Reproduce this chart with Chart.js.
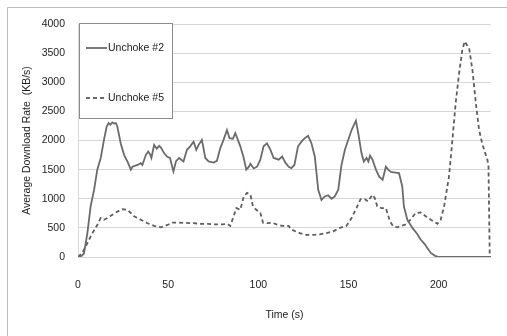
<!DOCTYPE html>
<html>
<head>
<meta charset="utf-8">
<script src="https://cdn.jsdelivr.net/npm/chart.js@4/dist/chart.umd.min.js"></script>
<style>
  html, body { margin: 0; padding: 0; background: #ffffff; }
  #c { display: block; }
</style>
</head>
<body>
<canvas id="c" width="507" height="336"></canvas>
<script>
// ---- data ----
const seriesNames = ['Unchoke #2', 'Unchoke #5'];

const timeUnchoke2 = [0, 2, 3.3, 5.2, 7, 8.9, 10.7, 12.6, 14.4, 15.9, 17, 18, 19, 20, 21, 21.8, 23.7, 25.6, 27.4, 29.3, 30.2, 33, 34.8, 35.7, 37.6, 38.9, 40, 40.7, 42.2, 43.7, 45, 46, 47.8, 49.5, 51, 52.9, 54.3, 56, 58.5, 60.4, 62.2, 64.1, 65.6, 66.9, 68.7, 70.6, 72.4, 75.2, 77, 78.9, 80.7, 82.6, 84, 85.9, 87.2, 88.3, 90, 91.9, 93.3, 94.8, 95.6, 97.4, 99.3, 101.1, 102.9, 104.8, 106.7, 108.5, 111.3, 113.2, 115, 116.8, 118.3, 120, 122, 123.9, 125.7, 127.6, 129.4, 131.3, 133.2, 135, 136.8, 138.7, 140.6, 142.4, 144.3, 146.1, 148, 149.8, 151.7, 154.1, 155.4, 157.2, 158.5, 160, 161, 161.9, 163.3, 165.2, 167, 168.9, 170.7, 172, 173.5, 176, 178, 179.8, 180.7, 182.6, 185.4, 188, 190, 192, 195.6, 198, 200.2, 229];
const rateUnchoke2 = [0, 20, 60, 410, 870, 1150, 1500, 1700, 2010, 2240, 2300, 2270, 2310, 2290, 2300, 2240, 1950, 1750, 1640, 1500, 1550, 1580, 1610, 1580, 1750, 1810, 1760, 1700, 1925, 1860, 1910, 1880, 1780, 1720, 1700, 1470, 1640, 1700, 1640, 1840, 1900, 1980, 1840, 1925, 2010, 1700, 1640, 1620, 1650, 1870, 2010, 2180, 2040, 2030, 2125, 2040, 1900, 1700, 1500, 1550, 1600, 1520, 1550, 1670, 1900, 1950, 1840, 1700, 1670, 1725, 1620, 1550, 1525, 1580, 1900, 1980, 2040, 2080, 1955, 1725, 1155, 980, 1040, 1060, 1000, 1040, 1155, 1580, 1840, 2010, 2180, 2340, 2125, 1780, 1640, 1700, 1640, 1740, 1670, 1500, 1380, 1325, 1550, 1500, 1460, 1450, 1440, 1210, 870, 640, 500, 400, 300, 230, 70, 20, 0, 0];

const timeUnchoke5 = [0, 2.4, 5.2, 8, 10.7, 12.6, 14.4, 16.3, 19.1, 21.9, 24.6, 27.4, 29.3, 31.1, 34.8, 38.5, 42.2, 45.9, 49.6, 52.4, 56, 60.4, 64, 68, 72, 76, 80, 82.6, 84.4, 86.3, 87.8, 90, 91.9, 93.7, 95.6, 97, 98.9, 101.1, 102.6, 104.8, 107.6, 110.4, 113.1, 116.8, 118.3, 123, 126.7, 130.4, 134, 137.8, 141.5, 145.2, 148.9, 151.7, 154.4, 156.7, 159, 160.7, 163.3, 164.6, 165.9, 168.3, 170.7, 173, 174.8, 177, 181.4, 184.4, 187.2, 190, 192.8, 195.6, 199.3, 201.1, 203, 205.7, 207.6, 209.4, 211.3, 213.1, 214.4, 216.9, 218.7, 220.6, 222.4, 224.3, 227, 227.6, 228.3];
const rateUnchoke5 = [0, 70, 240, 410, 550, 670, 640, 670, 725, 780, 820, 810, 755, 700, 640, 580, 535, 510, 550, 590, 590, 585, 580, 570, 570, 560, 560, 570, 535, 700, 840, 810, 1040, 1100, 1070, 870, 810, 755, 590, 580, 590, 555, 535, 535, 470, 410, 380, 380, 390, 410, 440, 500, 535, 670, 840, 995, 995, 955, 1070, 1010, 870, 840, 840, 610, 525, 510, 555, 640, 755, 765, 700, 640, 570, 640, 870, 1380, 2010, 2640, 3150, 3550, 3700, 3580, 3210, 2640, 2180, 1925, 1670, 1560, 0];

const xTickStep = 50;
const yTickStep = 500;
const xTitle = 'Time (s)';
const yTitle = 'Average Download Rate  (KB/s)';

// ---- chart ----
const FONT = "'Liberation Sans', Arial, sans-serif";
const textColor = '#1c1c1c';
const lineColor = '#6b6b6b';

function toPoints(xs, ys) { return xs.map((x, i) => ({ x: x, y: ys[i] })); }

const frameAndLegend = {
  id: 'frameAndLegend',
  afterDraw(chart) {
    const ctx = chart.ctx;
    ctx.save();
    // outer frame (top and left edges)
    ctx.strokeStyle = '#bdbdbd';
    ctx.lineWidth = 1;
    ctx.beginPath();
    ctx.moveTo(7.5, 336);
    ctx.lineTo(7.5, 7.5);
    ctx.lineTo(507, 7.5);
    ctx.stroke();

    // legend box
    const bx = 79.5, by = 23.5, bw = 93, bh = 95;
    ctx.fillStyle = '#ffffff';
    ctx.fillRect(bx, by, bw, bh);
    ctx.strokeStyle = '#8c8c8c';
    ctx.strokeRect(bx, by, bw, bh);

    const entries = [
      { y: 48, dash: [], label: seriesNames[0] },
      { y: 98, dash: [4, 3], label: seriesNames[1] }
    ];
    entries.forEach(e => {
      ctx.strokeStyle = lineColor;
      ctx.lineWidth = 1.8;
      ctx.setLineDash(e.dash);
      ctx.beginPath();
      ctx.moveTo(86, e.y);
      ctx.lineTo(107, e.y);
      ctx.stroke();
      ctx.setLineDash([]);
      ctx.fillStyle = textColor;
      ctx.font = '10.5px ' + FONT;
      ctx.textBaseline = 'middle';
      ctx.textAlign = 'left';
      ctx.fillText(e.label, 108, e.y);
    });
    ctx.restore();
  }
};

new Chart(document.getElementById('c'), {
  type: 'line',
  data: {
    datasets: [
      {
        label: seriesNames[0],
        data: toPoints(timeUnchoke2, rateUnchoke2),
        borderColor: lineColor,
        borderWidth: 1.8,
        pointRadius: 0,
        tension: 0,
        fill: false
      },
      {
        label: seriesNames[1],
        data: toPoints(timeUnchoke5, rateUnchoke5),
        borderColor: '#5e5e5e',
        borderWidth: 1.8,
        borderDash: [4, 3],
        pointRadius: 0,
        tension: 0,
        fill: false
      }
    ]
  },
  options: {
    responsive: false,
    animation: false,
    layout: { padding: { left: 0, right: 16, top: 24, bottom: 0 } },
    plugins: {
      legend: { display: false },
      tooltip: { enabled: false }
    },
    scales: {
      x: {
        type: 'linear',
        min: 0,
        max: 229,
        grid: { display: false },
        border: { display: false },
        ticks: {
          stepSize: xTickStep,
          includeBounds: false,
          padding: 14,
          color: textColor,
          font: { family: FONT, size: 10.5 },
          maxRotation: 0,
          callback: v => String(v)
        },
        title: {
          display: true,
          text: xTitle,
          color: textColor,
          font: { family: FONT, size: 10.5 },
          padding: { top: 0, bottom: 15 }
        },
        afterFit(s) { s.height = 79; }
      },
      y: {
        min: 0,
        max: 4000,
        grid: { color: '#d6d6d6', drawTicks: false, lineWidth: 1 },
        border: { display: true, color: '#dadada' },
        ticks: {
          stepSize: yTickStep,
          padding: 13,
          color: textColor,
          font: { family: FONT, size: 10.5 },
          callback: v => String(v)
        },
        title: {
          display: true,
          text: yTitle,
          color: textColor,
          font: { family: FONT, size: 10.5 },
          padding: { top: 21, bottom: 0 }
        },
        afterFit(s) { s.width = 78; }
      }
    }
  },
  plugins: [frameAndLegend]
});
</script>
</body>
</html>
